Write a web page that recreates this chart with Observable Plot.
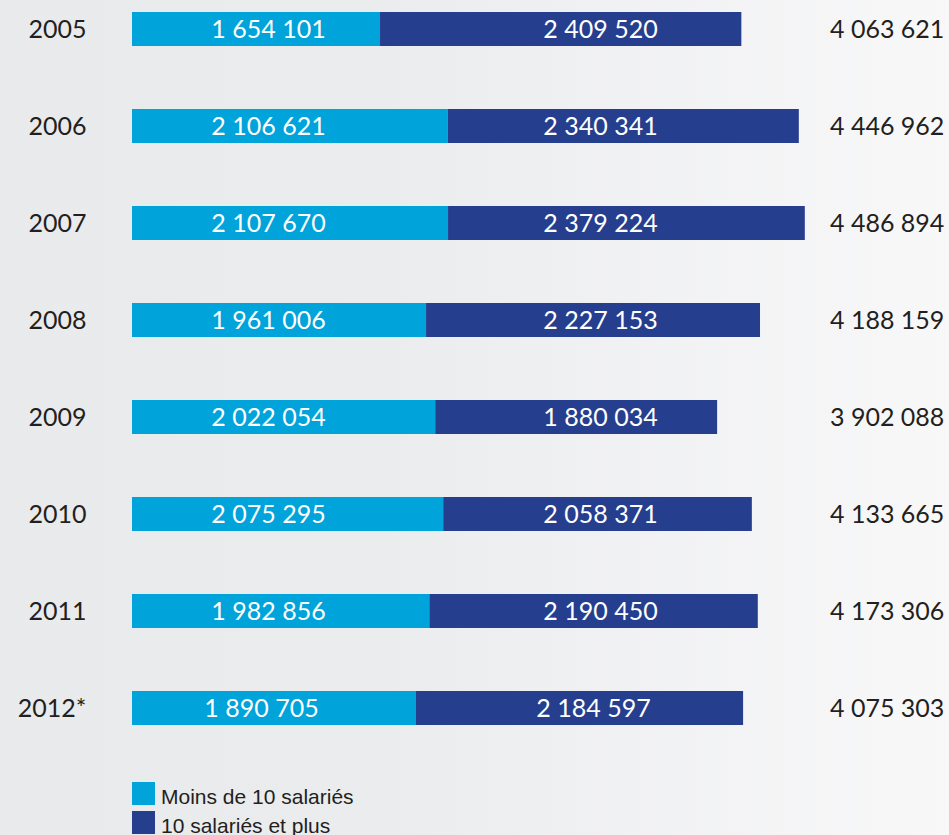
<!DOCTYPE html>
<html><head><meta charset="utf-8">
<script src="https://cdn.jsdelivr.net/npm/d3@7"></script>
<script src="https://cdn.jsdelivr.net/npm/@observablehq/plot@0.6"></script>
<style>
html,body{margin:0;padding:0;}
body{width:949px;height:835px;overflow:hidden;background:linear-gradient(to right,#e9eaec 0%,#ebecee 40%,#f8f8f9 100%);}
#chart svg{display:block;background:transparent;}
.legend{position:absolute;left:132px;font-family:"Liberation Sans",Arial,sans-serif;font-size:21px;color:#231f20;}
.legend div{display:flex;align-items:center;height:23px;margin-bottom:6px;}
.legend span.sw{display:inline-block;width:23px;height:23px;margin-right:6px;}
.legend span.tx{position:relative;top:3px;}
</style></head>
<body>
<div id="chart"></div>
<div class="legend" style="top:782px">
  <div><span class="sw" style="background:#00a3da"></span><span class="tx" id="l0"></span></div>
  <div><span class="sw" style="background:#253e8e"></span><span class="tx" id="l1"></span></div>
</div>
<script>
const years = ["2005","2006","2007","2008","2009","2010","2011","2012*"];
const small = [1654101,2106621,2107670,1961006,2022054,2075295,1982856,1890705];
const large = [2409520,2340341,2379224,2227153,1880034,2058371,2190450,2184597];
const totals = [4063621,4446962,4486894,4188159,3902088,4133665,4173306,4075303];
const seriesNames = ["Moins de 10 salariés","10 salariés et plus"];
const colors = ["#00a3da","#253e8e"];

document.getElementById("l0").textContent = seriesNames[0];
document.getElementById("l1").textContent = seriesNames[1];

const fmt = v => d3.format(",")(v).replace(/,/g, " ");
const rows = [];
years.forEach((y,i)=>{
  rows.push({year:y, series:seriesNames[0], value:small[i], idx:0});
  rows.push({year:y, series:seriesNames[1], value:large[i], idx:1});
});
const tot = years.map((y,i)=>({year:y,total:totals[i]}));

const W = 949, H = 760;
const k = 1.4995e-4;
const x0 = 132, x1 = 132 + 4486894*k;
const font = "Lato, 'Open Sans', sans-serif";
const labelX = d => (d.idx === 0 ? 907000 : 3121000) - (d.year === "2012*" ? 7/k : 0);
const chart = Plot.plot({
  width: W, height: H,
  marginLeft: 0, marginRight: 0, marginTop: 12, marginBottom: 35,
  x: {domain:[0,4486894], range:[x0, x1], axis:null},
  y: {domain: years, paddingInner:0.65, paddingOuter:0, align:0.5, axis:null},
  color: {domain: seriesNames, range: colors},
  style: {fontFamily: font, background:"transparent"},
  marks: [
    Plot.barX(rows, Plot.stackX({x:"value", y:"year", fill:"series", order:seriesNames})),
    Plot.text(rows, {x: labelX, y: "year", text: d => fmt(d.value), fill:"white", fontSize:25, textAnchor:"middle"}),
    Plot.text(years, {x: 0, y: d=>d, text: d=>d, dx:-46, textAnchor:"end", fill:"#231f20", fontSize:25}),
    Plot.text(tot, {x: 4486894, y:"year", text: d=>fmt(d.total), dx:139, textAnchor:"end", fill:"#231f20", fontSize:25})
  ]
});
document.getElementById("chart").appendChild(chart);
</script>
</body></html>
